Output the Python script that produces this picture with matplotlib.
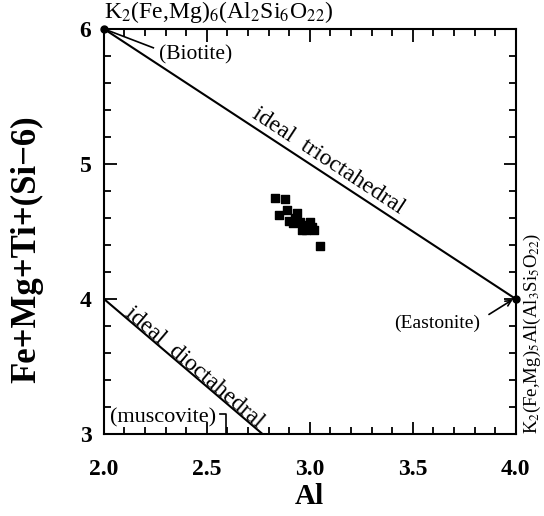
import numpy as np
import matplotlib
matplotlib.use("Agg")
import matplotlib.pyplot as plt
from matplotlib.ticker import MultipleLocator

plt.rcParams["font.family"] = ["Liberation Serif", "DejaVu Serif"]
plt.rcParams["mathtext.fontset"] = "stix"

# Sample compositions (Al vs Fe+Mg+Ti+(Si-6))
al_values = [2.83, 2.88, 2.85, 2.89, 2.94, 2.90, 2.93, 2.95, 2.97, 3.00,
             3.01, 2.96, 3.02, 3.05, 2.98, 2.92]
femg_values = [4.75, 4.74, 4.62, 4.66, 4.64, 4.58, 4.60, 4.57, 4.55, 4.57,
               4.53, 4.51, 4.51, 4.39, 4.51, 4.56]

# Ideal end-member lines
trioct_al = [2.0, 4.0]
trioct_y = [6.0, 4.0]
dioct_al = [2.0, 2.77]
dioct_y = [4.0, 3.0]

endmember_al = [2.0, 4.0]
endmember_y = [6.0, 4.0]

fig = plt.figure(figsize=(5.44, 5.16), dpi=100)
ax = fig.add_axes([0.191, 0.159, 0.757, 0.785])

ax.plot(trioct_al, trioct_y, color="black", lw=1.5, clip_on=False)
ax.plot(dioct_al, dioct_y, color="black", lw=1.5)
ax.plot(endmember_al, endmember_y, "o", color="black", ms=5, clip_on=False, zorder=5)
ax.scatter(al_values, femg_values, marker="s", s=34, color="black", zorder=4)

ax.set_xlim(2.0, 4.0)
ax.set_ylim(3.0, 6.0)

ax.xaxis.set_major_locator(MultipleLocator(0.5))
ax.xaxis.set_minor_locator(MultipleLocator(0.1))
ax.yaxis.set_major_locator(MultipleLocator(1))
ax.yaxis.set_minor_locator(MultipleLocator(0.2))
ax.set_xticklabels([f"{v:.1f}" for v in ax.get_xticks()])
ax.tick_params(which="both", direction="in", top=True, right=True, width=1.3)
ax.tick_params(which="major", length=9, labelsize=17)
ax.tick_params(which="minor", length=5)
ax.tick_params(axis="x", which="major", pad=18)
ax.tick_params(axis="y", which="major", pad=9)
for lab in ax.get_xticklabels() + ax.get_yticklabels():
    lab.set_fontweight("bold")
for sp in ax.spines.values():
    sp.set_linewidth(1.5)

ax.set_xlabel("Al", fontsize=21, fontweight="bold")
ax.xaxis.set_label_coords(0.5, -0.122)
ax.set_ylabel("Fe+Mg+Ti+(Si\u22126)", fontsize=25, fontweight="bold")
ax.yaxis.set_label_coords(-0.148, 0.455)


def screen_angle(x0, y0, x1, y1):
    p0 = ax.transData.transform((x0, y0))
    p1 = ax.transData.transform((x1, y1))
    return np.degrees(np.arctan2(p1[1] - p0[1], p1[0] - p0[0]))


ang_tri = screen_angle(2.0, 6.0, 4.0, 4.0)
ang_di = screen_angle(2.0, 4.0, 2.77, 3.0)

ax.text(3.09, 5.02, "ideal  trioctahedral", rotation=ang_tri, fontsize=17,
        ha="center", va="center", rotation_mode="anchor")
ax.text(2.44, 3.49, "ideal  dioctahedral", rotation=ang_di, fontsize=17,
        ha="center", va="center", rotation_mode="anchor")

# end-member labels
ax.text(2.0, 6.03, "K$_2$(Fe,Mg)$_6$(Al$_2$Si$_6$O$_{22}$)", fontsize=17,
        ha="left", va="bottom", clip_on=False)
ax.text(4.03, 3.0, "K$_2$(Fe,Mg)$_5$Al(Al$_3$Si$_5$O$_{22}$)", fontsize=13.5,
        ha="left", va="bottom", rotation=90, clip_on=False)

ax.plot([2.0, 2.24], [6.0, 5.86], color="black", lw=1.2)
ax.text(2.27, 5.81, "(Biotite)", fontsize=15.5, ha="left", va="center")

ax.annotate("", xy=(3.985, 3.995), xytext=(3.87, 3.885),
            arrowprops=dict(arrowstyle="->", color="black", lw=1.2,
                            shrinkA=0, shrinkB=0))
ax.text(3.825, 3.82, "(Eastonite)", fontsize=14, ha="right", va="center")

ax.text(2.03, 3.12, "(muscovite)", fontsize=16, ha="left", va="center")
ax.plot([2.565, 2.595, 2.595], [3.15, 3.15, 3.0], color="black", lw=1.2)

fig.savefig("out.png", dpi=100)
